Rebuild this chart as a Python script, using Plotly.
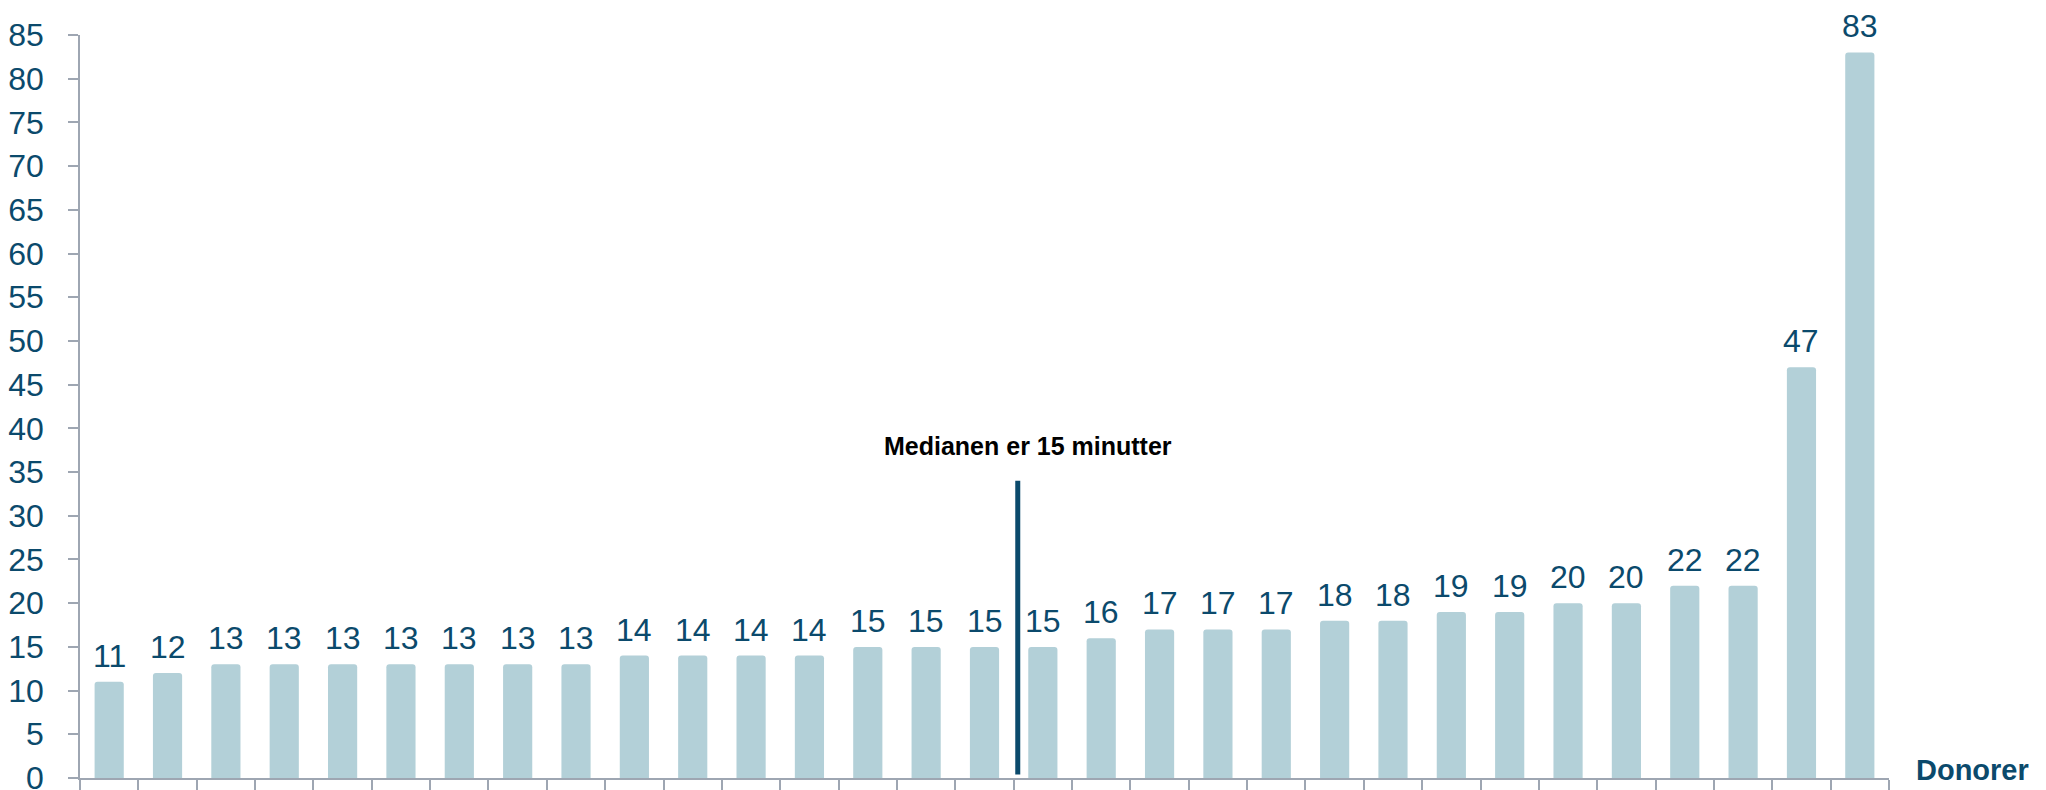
import plotly.graph_objects as go

donors = ["Donor %d" % i for i in range(1, 32)]
minutes = [11, 12, 13, 13, 13, 13, 13, 13, 13, 14, 14, 14, 14, 15, 15, 15,
           15, 16, 17, 17, 17, 18, 18, 19, 19, 20, 20, 22, 22, 47, 83]
median_text = "Medianen er 15 minutter"
median_value = 15
xaxis_title = "Donorer"

DARK = "#0B4A6C"
BAR = "#B3D0D8"
AXIS = "#9EA6B2"
FONT = "Liberation Sans, Arial, sans-serif"

fig = go.Figure()
fig.add_trace(go.Bar(
    x=donors, y=minutes, width=0.5,
    marker=dict(color=BAR, line=dict(width=0), cornerradius=3),
    hoverinfo="skip",
))

annotations = []
for d, v in zip(donors, minutes):
    annotations.append(dict(
        x=d, y=v, xref="x", yref="y", text=str(v), showarrow=False,
        yanchor="bottom", yshift=6,
        font=dict(family=FONT, size=32, color=DARK),
    ))

annotations.append(dict(
    x=15.75, y=38, xref="x", yref="y", text="<b>%s</b>" % median_text,
    showarrow=False, xanchor="center", yanchor="middle",
    font=dict(family=FONT, size=25, color="#000000"),
))
annotations.append(dict(
    x=1.014, y=0.011, xref="paper", yref="paper", text="<b>%s</b>" % xaxis_title,
    showarrow=False, xanchor="left", yanchor="middle",
    font=dict(family=FONT, size=29, color=DARK),
))

fig.add_shape(type="line", xref="x", yref="y", x0=15.57, x1=15.57, y0=0.4, y1=34,
              line=dict(color=DARK, width=5))

fig.update_layout(
    width=2046, height=790,
    margin=dict(l=72, r=165, t=27, b=20),
    paper_bgcolor="white", plot_bgcolor="white",
    showlegend=False,
    annotations=annotations,
    font=dict(family=FONT, color=DARK),
)
fig.update_xaxes(
    type="category", tickson="boundaries", ticks="outside", ticklen=11,
    tickcolor=AXIS, tickwidth=1.5, showticklabels=False,
    showline=True, linecolor=AXIS, linewidth=1.5, showgrid=False,
    range=[-0.5, 30.5], automargin=False,
)
fig.update_yaxes(
    range=[0, 85], dtick=5, tick0=0, ticks="outside", ticklen=10,
    tickcolor=AXIS, tickwidth=1.5, showline=True, linecolor=AXIS, linewidth=1.5,
    showgrid=False, zeroline=False, ticklabelstandoff=18, automargin=False,
    tickfont=dict(family=FONT, size=32, color=DARK),
)

fig.write_html("out.html")
